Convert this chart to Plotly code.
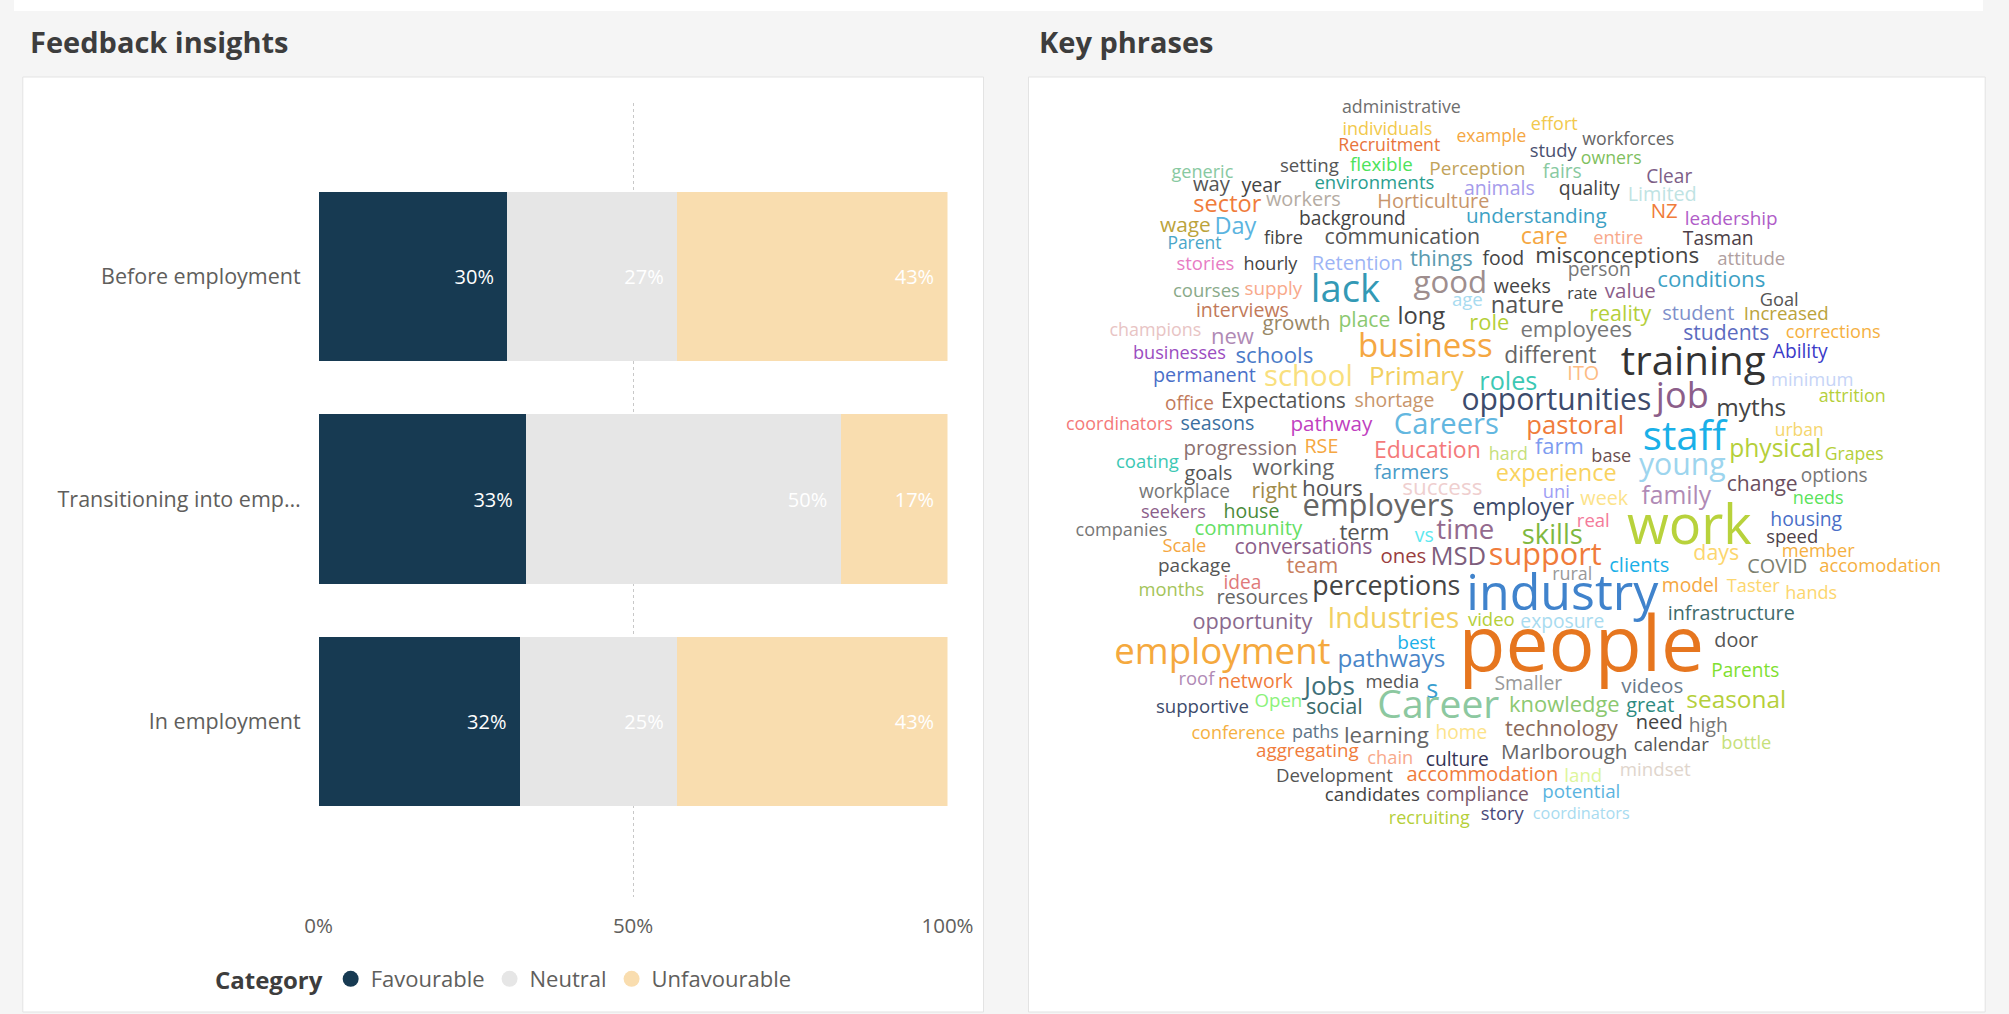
import plotly.graph_objects as go

W, H = 2009, 1014

# ======================= DATA =======================
stages = ["Before employment", "Transitioning into emp…", "In employment"]
favourable = [30, 33, 32]
neutral = [27, 50, 25]
unfavourable = [43, 17, 43]
series_names = ["Favourable", "Neutral", "Unfavourable"]
x_tick_vals = [0, 50, 100]
x_tick_text = ["0%", "50%", "100%"]

key_phrases = [
    "administrative", "individuals", "example", "Recruitment", "effort", "workforces", "study", "owners",
    "generic", "setting", "flexible", "Perception", "fairs", "Clear", "way", "year", "environments",
    "animals", "quality", "Limited", "sector", "workers", "Horticulture", "understanding", "NZ",
    "leadership", "wage", "Day", "background", "Parent", "fibre", "communication", "care", "entire",
    "Tasman", "attitude", "misconceptions", "stories", "hourly", "Retention", "things", "food",
    "courses", "supply", "lack", "good", "weeks", "person", "conditions", "rate", "value", "age",
    "nature", "interviews", "Goal", "long", "place", "growth", "champions", "new", "role", "reality",
    "student", "Increased", "employees", "students", "corrections", "business", "businesses", "schools",
    "different", "training", "Ability", "permanent", "school", "Primary", "roles", "ITO", "minimum",
    "opportunities", "job", "myths", "attrition", "office", "Expectations", "shortage", "coordinators",
    "seasons", "pathway", "Careers", "pastoral", "staff", "urban",
    "progression", "RSE", "Education", "hard", "farm", "base", "physical", "Grapes", "coating", "goals",
    "working", "farmers", "young", "experience", "options", "change", "workplace", "right", "hours",
    "success", "uni", "week", "family", "needs", "seekers", "house", "employers", "employer", "real",
    "work", "housing", "companies", "community", "term", "vs", "time", "skills", "speed", "Scale",
    "conversations", "ones", "MSD", "support", "member", "days", "clients", "COVID", "accomodation",
    "package", "team", "rural", "industry", "months", "idea", "perceptions", "resources", "model",
    "Taster", "hands",
    "opportunity", "Industries", "video", "exposure", "infrastructure", "people", "door", "employment",
    "best", "pathways", "Parents", "roof", "network", "Jobs", "media", "s", "Smaller", "videos",
    "supportive", "Open", "social", "Career", "knowledge", "great", "seasonal", "conference", "paths",
    "learning", "home", "technology", "need", "high", "aggregating", "chain", "culture", "Marlborough",
    "calendar", "bottle", "Development", "accommodation", "land", "mindset", "candidates", "compliance",
    "potential", "recruiting", "story", "coordinators",
]

# ======================= STYLE / LAYOUT =======================
FONT = "Open Sans"
BG = "#F5F5F5"
series_colors = {"Favourable": "#173A52", "Neutral": "#E6E6E6", "Unfavourable": "#F9DDAF"}

# word-cloud placement (page pixels before calibration): (centre x, centre y, width px, colour)
cloud_layout = [
    (1402, 109, 119, "#6E6E6E"), (1388, 130, 90, "#F2C94C"), (1492, 138, 70, "#F5A742"),
    (1390, 147, 102, "#E8743B"), (1555, 125, 47, "#F2C94C"), (1629, 141, 92, "#666666"),
    (1554, 152, 47, "#4A5170"), (1612, 160, 61, "#7FBF5F"), (1203, 173, 62, "#88C9A1"),
    (1310, 167, 59, "#555555"), (1382, 166, 63, "#4CE35A"), (1478, 170, 96, "#C2A35A"),
    (1563, 173, 39, "#88C9A1"), (1670, 178, 46, "#7D5E87"), (1212, 186, 37, "#555555"),
    (1262, 187, 40, "#444444"), (1375, 184, 120, "#2A9D8F"), (1500, 190, 71, "#A59BEB"),
    (1590, 190, 61, "#444444"), (1663, 196, 69, "#BFE3E3"), (1228, 206, 68, "#F07C3B"),
    (1304, 201, 75, "#B5ACA3"), (1434, 203, 112, "#C8956B"), (1537, 218, 141, "#3DA1C4"),
    (1665, 213, 27, "#F07C3B"), (1732, 220, 93, "#B05CC8"), (1186, 227, 51, "#BBA33B"),
    (1236, 228, 42, "#5BB4E0"), (1353, 220, 107, "#444444"), (1195, 245, 54, "#4BA6C9"),
    (1284, 240, 39, "#444444"), (1403, 239, 156, "#555555"), (1545, 238, 47, "#F5A742"),
    (1619, 239, 50, "#F8A98B"), (1719, 240, 71, "#4D3F48"), (1752, 260, 68, "#B0A0A0"),
    (1618, 257, 164, "#444444"), (1206, 265, 58, "#E77CC4"), (1271, 265, 54, "#444444"),
    (1358, 265, 91, "#9DB4F5"), (1442, 260, 63, "#5B9AAF"), (1504, 260, 42, "#444444"),
    # courses ...
    (1207, 292, 67, "#8AAA8A"), (1274, 290, 58, "#F8A98B"), (1346, 292, 69, "#3399B5"),
    (1451, 285, 74, "#9E8E8E"), (1523, 288, 57, "#444444"), (1600, 271, 63, "#777777"),
    (1712, 281, 108, "#3DA1C4"), (1583, 295, 30, "#444444"), (1631, 293, 51, "#8C5E8A"),
    (1468, 301, 31, "#A8DBF0"), (1528, 307, 73, "#555555"), (1243, 312, 93, "#C27A5A"),
    (1780, 301, 39, "#555555"), (1422, 318, 48, "#444444"), (1365, 322, 52, "#8CC870"),
    (1297, 325, 68, "#998866"), (1156, 332, 92, "#E8C4C4"), (1233, 338, 43, "#B08AB5"),
    (1490, 325, 40, "#B5CF3A"), (1621, 316, 62, "#B5CF3A"), (1699, 315, 72, "#7E8FCA"),
    (1787, 315, 85, "#BBA33B"), (1577, 331, 112, "#777777"), (1727, 335, 86, "#5C6BC0"),
    (1834, 333, 95, "#F5B041"), (1426, 349, 135, "#F5A742"), (1180, 354, 93, "#9B4DC0"),
    (1275, 357, 78, "#4A7AC8"), (1551, 357, 92, "#666666"), (1694, 365, 145, "#333333"),
    (1801, 353, 55, "#3A3AC8"), (1205, 377, 103, "#4A6FC8"), (1309, 379, 89, "#F9DF7E"),
    (1417, 379, 95, "#F2D061"), (1509, 384, 58, "#3CC8B4"), (1584, 375, 32, "#FDBB84"),
    (1813, 381, 83, "#C6D4F7"), (1557, 402, 190, "#3D4B6B"), (1683, 399, 53, "#8C5E8A"),
    (1752, 410, 70, "#444444"), (1853, 398, 67, "#B5CF3A"), (1190, 405, 49, "#C27A5A"),
    (1284, 403, 125, "#555555"), (1395, 402, 80, "#C8956B"), (1120, 426, 107, "#F47A7A"),
    (1218, 425, 74, "#3A6FA0"), (1332, 426, 82, "#C040C0"), (1447, 427, 105, "#63B7E0"),
    (1576, 428, 98, "#F07C3B"), (1685, 440, 83, "#1AB0E8"), (1800, 432, 49, "#F5D66E"),
    # progression ...
    (1241, 450, 114, "#8A7070"), (1322, 448, 34, "#F5A742"), (1428, 452, 107, "#F47A7A"),
    (1509, 456, 39, "#C6E07A"), (1560, 449, 49, "#7E9CF0"), (1612, 457, 40, "#6B4F4F"),
    (1776, 451, 92, "#B5CF3A"), (1855, 456, 59, "#B5CF3A"), (1148, 463, 63, "#3CC8B4"),
    (1209, 475, 48, "#555555"), (1294, 470, 82, "#666666"), (1412, 474, 75, "#4A9BC8"),
    (1683, 467, 87, "#9DD5EE"), (1557, 475, 121, "#F9D35E"), (1835, 477, 67, "#777777"),
    (1763, 486, 71, "#6B4F5F"), (1185, 493, 91, "#777777"), (1275, 493, 46, "#A08A4A"),
    (1333, 490, 61, "#555555"), (1443, 489, 80, "#EFCFCF"), (1557, 493, 27, "#9D9DF5"),
    (1605, 500, 48, "#FCE38A"), (1677, 498, 70, "#B08AB5"), (1819, 499, 51, "#5AE35A"),
    (1174, 513, 65, "#8C5E8A"), (1252, 513, 56, "#4A8A3A"), (1379, 508, 152, "#666666"),
    (1524, 509, 102, "#3D4B6B"), (1594, 522, 33, "#F47A9A"), (1690, 531, 125, "#B8D23C"),
    (1807, 521, 72, "#4A6FC8"), (1122, 531, 92, "#777777"), (1249, 530, 108, "#66E066"),
    (1365, 534, 50, "#555555"), (1425, 537, 19, "#5EE8F0"), (1466, 532, 58, "#946A8E"),
    (1553, 537, 61, "#80B840"), (1793, 538, 52, "#4D3F48"), (1185, 547, 44, "#F5A742"),
    (1304, 549, 138, "#8C5E8A"), (1404, 558, 46, "#9A3E3E"), (1459, 559, 56, "#7D5E7D"),
    (1546, 557, 113, "#F07C3B"), (1819, 552, 73, "#F5B041"), (1717, 555, 46, "#FCD66E"),
    (1640, 567, 60, "#1AB0E8"), (1778, 568, 60, "#7C8070"), (1881, 567, 122, "#F5B041"),
    (1195, 567, 73, "#555555"), (1313, 568, 52, "#C98060"), (1573, 576, 40, "#999999"),
    (1563, 597, 192, "#4083CC"), (1172, 591, 66, "#A4C45A"), (1243, 584, 38, "#E07A7A"),
    (1387, 588, 148, "#444444"), (1263, 599, 92, "#666666"), (1691, 587, 57, "#F5A742"),
    (1754, 587, 53, "#FCD66E"), (1812, 594, 52, "#FCD66E"),
    # opportunity ...
    (1253, 624, 120, "#8A6A8E"), (1394, 621, 132, "#F2D061"), (1492, 621, 47, "#B5CF3A"),
    (1563, 623, 84, "#A8DBF0"), (1732, 615, 127, "#3F6B6B"), (1582, 652, 246, "#E6761F"),
    (1737, 642, 44, "#555555"), (1223, 655, 217, "#F5A93E"), (1417, 644, 38, "#1AB0E8"),
    (1392, 661, 108, "#4A86C8"), (1746, 672, 68, "#80E030"), (1197, 680, 36, "#B08AB5"),
    (1256, 683, 75, "#F07C3B"), (1330, 688, 51, "#40707A"), (1393, 683, 54, "#555555"),
    (1433, 692, 12, "#3A9ED0"), (1529, 685, 68, "#999999"), (1653, 688, 62, "#6A7A8A"),
    (1203, 708, 93, "#3D4B6B"), (1279, 702, 48, "#8CF27A"), (1335, 709, 57, "#3A6A6A"),
    (1439, 708, 122, "#8CC8A0"), (1565, 707, 111, "#8CC870"), (1651, 707, 48, "#2E8B80"),
    (1737, 702, 100, "#B5CF3A"), (1239, 734, 94, "#F5B041"), (1316, 734, 47, "#5D7488"),
    (1387, 737, 85, "#666666"), (1462, 734, 52, "#FCE38A"), (1562, 730, 113, "#8A6A5A"),
    (1660, 724, 47, "#444444"), (1709, 727, 39, "#777777"), (1308, 752, 103, "#F07C3B"),
    (1391, 759, 46, "#F8A98B"), (1458, 761, 63, "#333355"), (1565, 754, 127, "#666666"),
    (1672, 746, 75, "#555555"), (1747, 744, 50, "#C6E07A"), (1335, 777, 117, "#555555"),
    (1483, 776, 152, "#F07C3B"), (1584, 777, 38, "#DDF59A"), (1656, 771, 71, "#E0D5CC"),
    (1373, 796, 95, "#444444"), (1478, 796, 103, "#7B5A6A"), (1582, 793, 78, "#5BB4E0"),
    (1430, 819, 81, "#B5CF3A"), (1503, 815, 43, "#4A4A7A"), (1582, 815, 97, "#A8DBF0"),
]

# approximate Open Sans advance widths (units per em = 2048) used to turn target widths into font sizes
OS_W = {
    " ": 532, "a": 1139, "b": 1255, "c": 975, "d": 1255, "e": 1149, "f": 694, "g": 1122, "h": 1257,
    "i": 518, "j": 518, "k": 1075, "l": 518, "m": 1905, "n": 1257, "o": 1237, "p": 1255, "q": 1255,
    "r": 836, "s": 977, "t": 723, "u": 1257, "v": 1026, "w": 1593, "x": 1073, "y": 1028, "z": 977,
    "A": 1296, "B": 1327, "C": 1292, "D": 1493, "E": 1139, "F": 1057, "G": 1491, "H": 1511, "I": 571,
    "J": 547, "K": 1257, "L": 1063, "M": 1849, "N": 1544, "O": 1595, "P": 1233, "Q": 1595, "R": 1266,
    "S": 1124, "T": 1133, "U": 1491, "V": 1219, "W": 1896, "X": 1182, "Y": 1147, "Z": 1169,
}


def em_width(s):
    return sum(OS_W.get(ch, 1150) for ch in s) / 2048.0


def fx(x):
    """horizontal calibration of the measured page positions"""
    return 1.02 * x - 14.5


cloud_x = [fx(p[0]) for p in cloud_layout]
cloud_y = [p[1] for p in cloud_layout]
cloud_size = [p[2] / em_width(t) for t, p in zip(key_phrases, cloud_layout)]
cloud_color = [p[3] for p in cloud_layout]


def px_x(v):
    return v / W


def px_y(v):
    return 1 - v / H


fig = go.Figure()

# ---- stacked bars ----
for name, vals in zip(series_names, [favourable, neutral, unfavourable]):
    fig.add_trace(go.Bar(
        y=stages, x=vals, orientation="h", name=name,
        marker=dict(color=series_colors[name], line=dict(width=0)),
        text=[f"{v}%\u00a0\u00a0" for v in vals], textposition="inside",
        insidetextanchor="end", textangle=0, constraintext="none",
        textfont=dict(family=FONT, size=20, color="#FFFFFF"),
        showlegend=False, hoverinfo="skip",
    ))

# legend entries with round markers
for name in series_names:
    fig.add_trace(go.Scatter(
        x=[None], y=[None], mode="markers", name=name,
        marker=dict(symbol="circle", size=16, color=series_colors[name]),
        showlegend=True, hoverinfo="skip",
    ))

# ---- word cloud ----
cloud_x0, cloud_x1 = fx(1029), fx(1986)
fig.add_trace(go.Scatter(
    x=cloud_x, y=cloud_y, text=key_phrases, mode="text", textposition="middle center",
    textfont=dict(family=FONT, size=cloud_size, color=cloud_color),
    xaxis="x2", yaxis="y2", hoverinfo="skip", showlegend=False, cliponaxis=False,
))

shapes = [
    dict(type="rect", xref="paper", yref="paper", x0=0, x1=1, y0=px_y(11), y1=1,
         fillcolor="#FFFFFF", line=dict(width=0), layer="below"),
    dict(type="rect", xref="paper", yref="paper", x0=px_x(fx(23)), x1=px_x(fx(984)),
         y0=px_y(1012), y1=px_y(77),
         fillcolor="#FFFFFF", line=dict(color="#E3E3E3", width=1), layer="below"),
    dict(type="rect", xref="paper", yref="paper", x0=px_x(cloud_x0), x1=px_x(cloud_x1),
         y0=px_y(1012), y1=px_y(77),
         fillcolor="#FFFFFF", line=dict(color="#E3E3E3", width=1), layer="below"),
]

annotations = [
    dict(text="<b>Feedback insights</b>", x=px_x(fx(28)), y=px_y(42), xref="paper", yref="paper",
         xanchor="left", yanchor="middle", showarrow=False,
         font=dict(family=FONT, size=29, color="#3D3D3D")),
    dict(text="<b>Key phrases</b>", x=px_x(fx(1038)), y=px_y(42), xref="paper", yref="paper",
         xanchor="left", yanchor="middle", showarrow=False,
         font=dict(family=FONT, size=29, color="#3D3D3D")),
]

fig.update_layout(
    width=W, height=H, margin=dict(l=0, r=0, t=0, b=0),
    paper_bgcolor=BG, plot_bgcolor="rgba(0,0,0,0)",
    barmode="stack", bargap=0.24,
    font=dict(family=FONT, color="#605E5C"),
    shapes=shapes, annotations=annotations,
    xaxis=dict(
        domain=[px_x(fx(319)), px_x(fx(948))], range=[0, 100], anchor="y",
        tickvals=x_tick_vals, ticktext=x_tick_text, ticks="", ticklabelstandoff=14,
        showgrid=True, gridcolor="#C8C8C8", gridwidth=1, griddash="dot",
        zeroline=False, showline=False, fixedrange=True,
        tickfont=dict(family=FONT, size=20.5, color="#605E5C"),
    ),
    yaxis=dict(
        domain=[px_y(897), px_y(103)], type="category", categoryorder="array",
        categoryarray=stages, range=[2.789, -0.78], anchor="x",
        ticks="", ticklabelstandoff=17, showgrid=False, zeroline=False, showline=False,
        fixedrange=True, tickfont=dict(family=FONT, size=21.5, color="#605E5C"),
    ),
    xaxis2=dict(domain=[px_x(cloud_x0), min(1.0, px_x(cloud_x1))],
                range=[cloud_x0, cloud_x0 + (min(1.0, px_x(cloud_x1)) - px_x(cloud_x0)) * W],
                visible=False, anchor="y2", fixedrange=True),
    yaxis2=dict(domain=[px_y(1012), px_y(77)], range=[1012, 77], visible=False,
                anchor="x2", fixedrange=True),
    legend=dict(
        orientation="h", x=px_x(203), xanchor="left", y=px_y(979), yanchor="middle",
        traceorder="normal",
        title=dict(text="<b>Category</b>", side="left", font=dict(family=FONT, size=24, color="#3D3D3D")),
        font=dict(family=FONT, size=22, color="#605E5C"),
        itemsizing="trace", itemwidth=30, bgcolor="rgba(0,0,0,0)", tracegroupgap=0,
    ),
    hovermode=False,
)

fig.write_html(
    "out.html",
    config={"displayModeBar": False, "responsive": False},
    post_script="document.body.style.margin='0';document.body.style.overflow='hidden';",
)
